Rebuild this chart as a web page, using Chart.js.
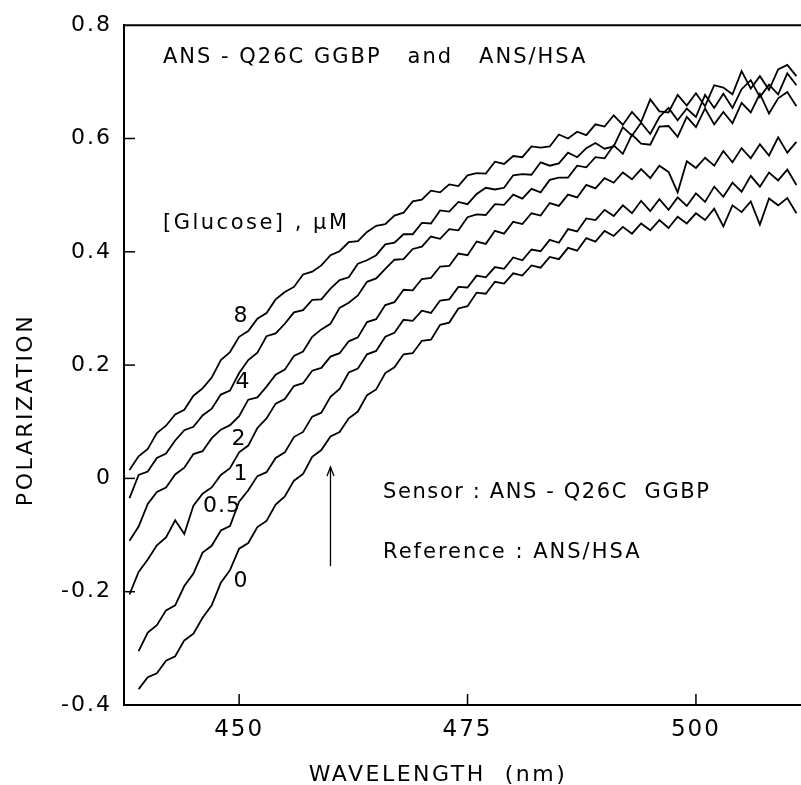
<!DOCTYPE html>
<html>
<head>
<meta charset="utf-8">
<script src="https://cdn.jsdelivr.net/npm/chart.js@4/dist/chart.umd.min.js"></script>
<style>
  html, body { margin: 0; padding: 0; background: #fff; }
  #wrap { width: 801px; height: 785px; position: relative; }
</style>
</head>
<body>
<div id="wrap"><canvas id="c" width="801" height="785"></canvas></div>
<script>
// ---- Data ----
const wavelengths = [438,439,440,441,442,443,444,445,446,447,448,449,450,451,452,453,454,455,456,457,458,459,460,461,462,463,464,465,466,467,468,469,470,471,472,473,474,475,476,477,478,479,480,481,482,483,484,485,486,487,488,489,490,491,492,493,494,495,496,497,498,499,500,501,502,503,504,505,506,507,508,509,510,511];

const glucoseLevels = ['8','4','2','1','0.5','0'];

const pol_8 = [0.015,0.039,0.052,0.080,0.093,0.113,0.121,0.146,0.159,0.178,0.209,0.223,0.250,0.260,0.282,0.292,0.316,0.329,0.338,0.360,0.365,0.376,0.394,0.401,0.417,0.419,0.435,0.446,0.449,0.464,0.469,0.489,0.492,0.508,0.505,0.519,0.516,0.535,0.539,0.538,0.559,0.555,0.569,0.567,0.586,0.584,0.586,0.607,0.600,0.612,0.606,0.625,0.621,0.641,0.624,0.647,0.629,0.669,0.648,0.646,0.677,0.658,0.680,0.657,0.694,0.690,0.678,0.719,0.688,0.710,0.686,0.722,0.730,0.710];

const pol_4 = [-0.035,0.006,0.012,0.036,0.044,0.067,0.085,0.091,0.111,0.123,0.148,0.155,0.186,0.209,0.222,0.251,0.256,0.273,0.293,0.297,0.315,0.316,0.335,0.350,0.355,0.379,0.385,0.394,0.413,0.416,0.431,0.431,0.451,0.450,0.473,0.471,0.488,0.484,0.502,0.513,0.510,0.513,0.535,0.537,0.536,0.558,0.552,0.556,0.575,0.567,0.583,0.592,0.582,0.586,0.620,0.605,0.628,0.608,0.638,0.654,0.632,0.653,0.638,0.677,0.654,0.679,0.654,0.687,0.703,0.673,0.695,0.678,0.715,0.694];

const pol_2 = [-0.110,-0.085,-0.045,-0.024,-0.016,0.007,0.019,0.043,0.048,0.071,0.086,0.094,0.110,0.139,0.143,0.162,0.183,0.192,0.216,0.224,0.250,0.263,0.273,0.301,0.310,0.323,0.347,0.353,0.370,0.386,0.387,0.405,0.409,0.427,0.423,0.440,0.438,0.461,0.466,0.465,0.484,0.483,0.501,0.494,0.511,0.505,0.527,0.531,0.531,0.552,0.549,0.567,0.565,0.588,0.573,0.607,0.591,0.589,0.621,0.622,0.603,0.638,0.620,0.653,0.625,0.647,0.627,0.663,0.646,0.679,0.644,0.671,0.682,0.657];

const pol_1 = [-0.205,-0.165,-0.143,-0.118,-0.104,-0.074,-0.098,-0.048,-0.027,-0.016,0.006,0.018,0.046,0.058,0.089,0.106,0.132,0.140,0.163,0.168,0.190,0.195,0.215,0.221,0.242,0.249,0.276,0.281,0.306,0.311,0.333,0.332,0.352,0.354,0.374,0.375,0.397,0.394,0.418,0.414,0.437,0.432,0.453,0.449,0.468,0.464,0.486,0.481,0.501,0.496,0.518,0.512,0.530,0.522,0.540,0.528,0.546,0.530,0.552,0.541,0.505,0.560,0.548,0.566,0.552,0.578,0.558,0.583,0.565,0.590,0.570,0.602,0.575,0.594];

const pol_05 = [null,-0.305,-0.272,-0.259,-0.233,-0.224,-0.190,-0.168,-0.131,-0.119,-0.092,-0.084,-0.041,-0.021,0.004,0.011,0.036,0.046,0.073,0.082,0.109,0.116,0.144,0.158,0.187,0.194,0.219,0.225,0.250,0.257,0.280,0.278,0.296,0.292,0.314,0.316,0.338,0.337,0.358,0.355,0.373,0.370,0.390,0.385,0.404,0.401,0.421,0.416,0.440,0.436,0.459,0.456,0.474,0.463,0.482,0.468,0.490,0.472,0.493,0.474,0.496,0.481,0.503,0.488,0.515,0.497,0.522,0.506,0.534,0.515,0.540,0.526,0.545,0.518];

const pol_0 = [null,-0.372,-0.351,-0.344,-0.322,-0.314,-0.286,-0.274,-0.246,-0.224,-0.184,-0.162,-0.124,-0.114,-0.086,-0.075,-0.046,-0.032,-0.004,0.008,0.038,0.050,0.074,0.082,0.106,0.118,0.147,0.157,0.186,0.196,0.219,0.221,0.243,0.245,0.271,0.275,0.300,0.304,0.328,0.326,0.347,0.344,0.362,0.358,0.376,0.372,0.391,0.387,0.407,0.402,0.424,0.418,0.437,0.428,0.444,0.432,0.450,0.438,0.456,0.442,0.462,0.450,0.468,0.456,0.476,0.445,0.482,0.470,0.489,0.448,0.494,0.482,0.495,0.468];

const xTicks = [450, 475, 500];
const yTicks = [-0.4, -0.2, 0, 0.2, 0.4, 0.6, 0.8];

// ---- Build datasets ----
const seriesValues = [pol_8, pol_4, pol_2, pol_1, pol_05, pol_0];
const datasets = seriesValues.map((vals, i) => ({
  label: glucoseLevels[i] + ' µM',
  data: wavelengths.map((w, k) => ({ x: w, y: vals[k] })),
  borderColor: '#000',
  borderWidth: 1.8,
  pointRadius: 0,
  tension: 0,
  fill: false,
  spanGaps: false
}));

const FONT = '"DejaVu Sans", sans-serif';

const decor = {
  id: 'decor',
  beforeDraw(chart) {
    chart.ctx.letterSpacing = '2px';
  },
  afterDraw(chart) {
    const ctx = chart.ctx;
    const xs = chart.scales.x, ys = chart.scales.y;
    const a = chart.chartArea;
    ctx.save();
    ctx.strokeStyle = '#000';
    ctx.fillStyle = '#000';
    // top frame line
    ctx.lineWidth = 2;
    ctx.beginPath();
    ctx.moveTo(a.left, a.top);
    ctx.lineTo(a.right, a.top);
    ctx.stroke();
    // inward ticks
    ctx.lineWidth = 1.5;
    yTicks.forEach(v => {
      if (v <= ys.min || v >= ys.max) return;
      const y = ys.getPixelForValue(v);
      ctx.beginPath(); ctx.moveTo(a.left, y); ctx.lineTo(a.left + 11, y); ctx.stroke();
    });
    xTicks.forEach(v => {
      const x = xs.getPixelForValue(v);
      ctx.beginPath(); ctx.moveTo(x, a.bottom); ctx.lineTo(x, a.bottom - 11); ctx.stroke();
    });
    // arrow at 460 nm
    const ax = xs.getPixelForValue(460);
    const ay1 = ys.getPixelForValue(-0.155), ay2 = ys.getPixelForValue(0.02);
    ctx.lineWidth = 1.3;
    ctx.beginPath(); ctx.moveTo(ax, ay1); ctx.lineTo(ax, ay2); ctx.stroke();
    ctx.beginPath(); ctx.moveTo(ax - 3.5, ay2 + 9); ctx.lineTo(ax, ay2); ctx.lineTo(ax + 3.5, ay2 + 9); ctx.stroke();

    // texts
    ctx.textBaseline = 'alphabetic';
    ctx.textAlign = 'left';
    ctx.letterSpacing = '2px';
    ctx.font = '21px ' + FONT;
    ctx.fillText('ANS - Q26C GGBP   and   ANS/HSA', 163, 63);
    ctx.letterSpacing = '2.5px';
    ctx.fillText('[Glucose] , μM', 163, 229);
    ctx.letterSpacing = '1.6px';
    ctx.fillText('Sensor : ANS - Q26C  GGBP', 383, 498);
    ctx.letterSpacing = '2px';
    ctx.fillText('Reference : ANS/HSA', 383, 558);
    // curve labels
    ctx.textAlign = 'center';
    ctx.font = '22px ' + FONT;
    ctx.letterSpacing = '1px';
    ctx.fillText('8', 241, 322);
    ctx.fillText('4', 243, 388);
    ctx.fillText('2', 239, 445);
    ctx.fillText('1', 241, 480);
    ctx.fillText('0.5', 222, 512);
    ctx.fillText('0', 241, 587);
    // axis titles
    ctx.letterSpacing = '2.5px';
    ctx.font = '22px ' + FONT;
    ctx.fillText('WAVELENGTH  (nm)', 438, 781);
    ctx.save();
    ctx.translate(32, 410);
    ctx.rotate(-Math.PI / 2);
    ctx.fillText('POLARIZATION', 0, 0);
    ctx.restore();
    ctx.restore();
  }
};

new Chart(document.getElementById('c'), {
  type: 'line',
  data: { datasets },
  options: {
    responsive: false,
    animation: false,
    events: [],
    layout: { padding: { top: 22, right: 0, left: 0, bottom: 0 } },
    plugins: { legend: { display: false }, tooltip: { enabled: false }, title: { display: false } },
    scales: {
      x: {
        type: 'linear',
        min: 437.4,
        max: 511.5,
        afterBuildTicks: s => { s.ticks = xTicks.map(v => ({ value: v })); },
        afterFit: s => { s.height = 80; },
        grid: { display: false, drawTicks: false },
        border: { display: true, color: '#000', width: 2 },
        ticks: { color: '#000', font: { family: FONT, size: 23 }, padding: 11, maxRotation: 0,
                 callback: v => String(v) }
      },
      y: {
        type: 'linear',
        min: -0.4,
        max: 0.8,
        afterBuildTicks: s => { s.ticks = yTicks.map(v => ({ value: v })); },
        afterFit: s => { s.width = 124; },
        grid: { display: false, drawTicks: false },
        border: { display: true, color: '#000', width: 2 },
        ticks: { color: '#000', font: { family: FONT, size: 22 }, padding: 12,
                 callback: v => (Math.abs(v) < 1e-9 ? '0' : v.toFixed(1)) }
      }
    }
  },
  plugins: [decor]
});
</script>
</body>
</html>
